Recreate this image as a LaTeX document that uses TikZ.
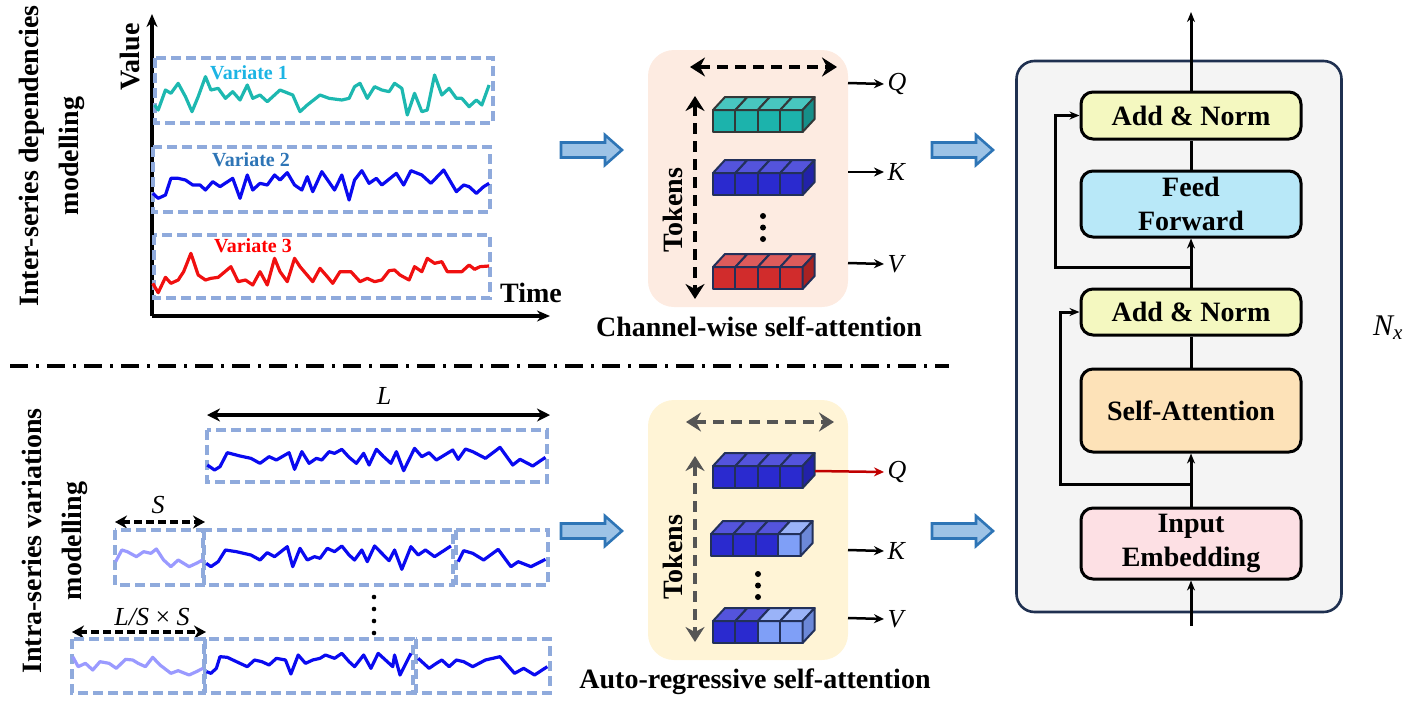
\documentclass[tikz,border=0pt]{standalone}
\usepackage{fontspec}
\setmainfont{Liberation Serif}
\usetikzlibrary{arrows.meta,calc}
\definecolor{boxblue}{HTML}{8FAADC}
\definecolor{ser1}{HTML}{1DB8B0}
\definecolor{ser2}{HTML}{0A0AF0}
\definecolor{ser3}{HTML}{F01010}
\definecolor{serL}{HTML}{9A9AFF}
\definecolor{lab1}{HTML}{1CB4E4}
\definecolor{lab2}{HTML}{2E75B6}
\definecolor{lab3}{HTML}{FF0000}
\definecolor{fatF}{HTML}{9DC3E6}
\definecolor{fatD}{HTML}{2E75B6}
\definecolor{peach}{HTML}{FDEBE1}
\definecolor{cream}{HTML}{FFF4D6}
\definecolor{tkTealF}{HTML}{1CB3AC}
\definecolor{tkTealT}{HTML}{48C6BF}
\definecolor{tkTealS}{HTML}{168F89}
\definecolor{tkBlueF}{HTML}{2A2ACF}
\definecolor{tkBlueT}{HTML}{5454DC}
\definecolor{tkBlueS}{HTML}{2222A8}
\definecolor{tkRedF}{HTML}{D12C2C}
\definecolor{tkRedT}{HTML}{DD5B5B}
\definecolor{tkRedS}{HTML}{A82222}
\definecolor{tkLightF}{HTML}{7F9FF7}
\definecolor{tkLightT}{HTML}{9AB3F8}
\definecolor{tkLightS}{HTML}{6C88D8}
\definecolor{edgeNavy}{HTML}{22305A}
\definecolor{edgeGray}{HTML}{333838}
\definecolor{panelgray}{HTML}{F4F4F4}
\definecolor{panelline}{HTML}{1F3050}
\definecolor{anFill}{HTML}{F4F8C0}
\definecolor{ffFill}{HTML}{B8E8F8}
\definecolor{saFill}{HTML}{FDE2B8}
\definecolor{ieFill}{HTML}{FDE0E4}
\definecolor{qred}{HTML}{C00000}
\definecolor{tokgray}{HTML}{555555}
% token bar: #1 x, #2 y (top of front), #3 list of colour prefixes, #4 side prefix, #5 edge colour
\newcommand\tokbar[5]{%
  \foreach \cc [count=\ii from 0] in {#3}{%
    \filldraw[fill=\cc F, draw=#5, line width=2, line join=round] (#1+22.4*\ii,#2) rectangle ++(22.4,22);
    \filldraw[fill=\cc T, draw=#5, line width=2, line join=round] (#1+22.4*\ii,#2) -- ++(12,-13) -- ++(22.4,0) -- ++(-12,13) -- cycle;
  }%
  \filldraw[fill=#4S, draw=#5, line width=2, line join=round] (#1+89.6,#2) -- ++(12,-13) -- ++(0,22) -- ++(-12,13) -- cycle;
}
\newcommand\fatarrow[2]{%
  \filldraw[fill=fatF, draw=fatD, line width=2.6, line join=miter] (#1,#2-7.5) -- ++(44,0) -- ++(0,-7.5) -- ++(17,15) -- ++(-17,15) -- ++(0,-7.5) -- ++(-44,0) -- cycle;
}
\begin{document}
\begin{tikzpicture}[x=1pt,y=-1pt,
  dbox/.style={draw=boxblue, line width=3.4, dash pattern=on 10 off 5},
  sideTitle/.style={font=\fontsize{28}{40}\selectfont\bfseries, rotate=90, align=center},
  big/.style={font=\fontsize{28}{33}\selectfont\bfseries},
  vlab/.style={font=\fontsize{20}{22}\selectfont\bfseries},
  mlab/.style={font=\fontsize{26}{28}\selectfont\itshape},
  qkv/.style={line width=2.5, -{Stealth[length=10,width=9]}},
  tokarr/.style={line width=3.8, dash pattern=on 11 off 7, {Stealth[length=15,width=19,inset=5]}-{Stealth[length=15,width=19,inset=5]}},
  blk/.style={draw=black, line width=3, rounded corners=12, minimum width=220, inner sep=0, font=\fontsize{28}{34}\selectfont\bfseries, align=center},
  arr/.style={line width=3, -{Stealth[length=10,width=8]}},
  ln/.style={line width=3},
  ser/.style={line width=3.2, line join=round}]
\useasboundingbox (0,0) rectangle (1411,726);

% ---------------- top left: inter-series -----------------
\node[sideTitle] (t1) at (52,156) {Inter-series dependencies\\modelling};
\node[big, rotate=90] (value) at (130,57) {Value};
\node[big] (time) at (531,293) {Time};
\coordinate (orig) at (152,316);
\coordinate (ytop) at (152,14);
\coordinate (xend) at (550,316);
\draw[line width=3.4, -{Stealth[length=13,width=11]}] (orig) -- (ytop);
\draw[line width=3.4, -{Stealth[length=13,width=11]}] (orig) -- (xend);
\draw[dbox] (155,58) rectangle (493,123);
\draw[dbox] (153,147) rectangle (490,212);
\draw[dbox] (154,235) rectangle (490,298);
\begin{scope}[xscale=1/2.75, yscale=1/3]
\draw[ser1, ser] plot coordinates {(425,315)(435,330)(455,270)(470,280)(490,250)(510,290)(528,335)(545,290)(565,230)(580,270)(600,265)(620,295)(640,275)(660,300)(680,255)(695,295)(715,285)(735,305)(770,270)(805,285)(825,335)(845,315)(880,285)(905,295)(940,300)(960,295)(975,260)(990,250)(1010,295)(1030,260)(1050,270)(1070,275)(1085,250)(1105,265)(1120,345)(1140,280)(1160,335)(1175,330)(1195,225)(1215,285)(1235,265)(1255,295)(1270,295)(1290,320)(1310,300)(1325,315)(1345,255)};
\draw[ser2, ser] plot coordinates {(420,580)(435,595)(455,585)(470,535)(490,535)(510,540)(530,555)(550,555)(565,570)(585,545)(605,560)(640,535)(660,595)(680,525)(695,570)(715,550)(735,555)(755,525)(770,540)(790,518)(810,555)(830,570)(845,530)(860,575)(885,515)(920,570)(940,525)(960,600)(975,540)(995,512)(1015,550)(1035,535)(1050,555)(1090,520)(1110,555)(1130,512)(1160,525)(1185,550)(1220,510)(1255,575)(1275,555)(1290,560)(1310,580)(1330,560)(1345,550)};
\draw[ser3, ser] plot coordinates {(420,850)(435,878)(455,832)(470,850)(490,840)(505,815)(525,760)(545,825)(565,840)(580,835)(600,832)(635,800)(655,845)(675,840)(695,855)(715,815)(735,855)(755,775)(770,815)(790,845)(810,775)(825,800)(860,845)(880,805)(900,830)(915,850)(935,815)(965,815)(990,845)(1010,835)(1030,845)(1050,840)(1070,812)(1085,810)(1100,825)(1125,840)(1140,800)(1160,815)(1175,775)(1195,790)(1215,785)(1230,815)(1270,815)(1290,795)(1305,808)(1320,800)(1345,798)};
\end{scope}
\node[vlab, lab1] (v1) at (249,73) {Variate 1};
\node[vlab, lab2] (v2) at (251,160) {Variate 2};
\node[vlab, lab3] (v3) at (253,246) {Variate 3};

% fat arrows
\fatarrow{561}{150}
\fatarrow{932}{150}
\fatarrow{561}{531}
\fatarrow{932}{531}

% ---------------- top tokens -----------------
\node[fill=peach, rounded corners=26, minimum width=200, minimum height=257, inner sep=0] (p1) at (748,178.5) {};
\coordinate (h1l) at (690,67); \coordinate (h1r) at (837,67);
\draw[tokarr] (h1l) -- (h1r);
\coordinate (v1t) at (695,96); \coordinate (v1b) at (695,299);
\draw[tokarr] (v1t) -- (v1b);
\node[big, rotate=90] (tok1) at (673,210) {Tokens};
\tokbar{713}{110}{tkTeal,tkTeal,tkTeal,tkTeal}{tkTeal}{edgeGray}
\tokbar{713}{173}{tkBlue,tkBlue,tkBlue,tkBlue}{tkBlue}{edgeNavy}
\tokbar{713}{267}{tkRed,tkRed,tkRed,tkRed}{tkRed}{edgeNavy}
\foreach \yy in {216,227.5,239} \fill (763,\yy) circle (3);
\node[mlab, anchor=west] (q1) at (884,84) {Q};
\node[mlab, anchor=west] (k1) at (884,172) {K};
\node[mlab, anchor=west] (vv1) at (884,264) {V};
\coordinate (q1s) at (848,83); \coordinate (k1s) at (848,172); \coordinate (vv1s) at (848,263);
\draw[qkv] (q1s) -- (q1.west);
\draw[qkv] (k1s) -- (k1.west);
\draw[qkv] (vv1s) -- (vv1.west);
\node[big] (cw) at (759,327) {Channel-wise self-attention};

% separator
\coordinate (sepL) at (10,366); \coordinate (sepR) at (949,366);
\draw[line width=3.6, dash pattern=on 18 off 8 on 3 off 8] (sepL) -- (sepR);

% ---------------- bottom left: intra-series -----------------
\node[sideTitle] (t2) at (55,541) {Intra-series variations\\modelling};
\node[mlab] (Llab) at (384,396) {L};
\coordinate (La) at (207,415); \coordinate (Lb) at (550,415);
\draw[line width=3.4, {Stealth[length=13,width=13]}-{Stealth[length=13,width=13]}] (La) -- (Lb);
\draw[dbox] (207,430) rectangle (547,482);
\node[mlab] (Slab) at (158,505) {S};
\coordinate (Sa) at (115,522); \coordinate (Sb) at (205,522);
\draw[line width=3.8, dash pattern=on 8 off 4, {Stealth[length=12,width=13]}-{Stealth[length=12,width=13]}] (Sa) -- (Sb);
\draw[dbox] (115,530) rectangle (203,585);
\draw[dbox] (204,530) rectangle (453,585);
\draw[dbox] (456,530) rectangle (548,585);
\foreach \yy in {597,609,621,633} \fill (374,\yy) circle (2.3);
\node[font=\fontsize{26}{28}\selectfont] (LSlab) at (152,617) {\itshape L/S\/ \upshape× \itshape S};
\coordinate (LSa) at (72,632); \coordinate (LSb) at (206,632);
\draw[line width=3.8, dash pattern=on 8 off 4, {Stealth[length=12,width=13]}-{Stealth[length=12,width=13]}] (LSa) -- (LSb);
\draw[dbox] (72,639) rectangle (204,693);
\draw[dbox] (205,639) rectangle (413,693);
\draw[dbox] (416,639) rectangle (550,693);
\begin{scope}[shift={(0,370)}, xscale=1/2.75, yscale=1/3]
\draw[ser2, ser] plot coordinates {(570,285)(590,300)(605,290)(625,248)(660,258)(690,265)(715,280)(740,260)(760,270)(795,248)(810,298)(830,245)(850,280)(870,265)(885,270)(905,245)(920,250)(940,238)(960,262)(980,280)(1000,250)(1015,285)(1035,238)(1055,260)(1075,280)(1090,245)(1110,302)(1140,235)(1160,260)(1180,248)(1200,270)(1245,240)(1260,268)(1280,237)(1300,245)(1335,265)(1375,232)(1410,285)(1430,268)(1465,288)(1500,262)};
\draw[serL, ser] plot coordinates {(318,575)(335,540)(350,545)(375,560)(395,545)(415,550)(430,537)(450,570)(470,590)(490,570)(520,590)(540,580)(557,570)};
\draw[ser2, ser] plot coordinates {(567,580)(580,590)(600,575)(620,540)(650,545)(690,555)(715,570)(735,548)(755,560)(790,530)(805,590)(825,535)(845,570)(865,560)(880,565)(900,535)(920,545)(940,528)(960,555)(975,570)(995,540)(1010,575)(1030,528)(1050,550)(1070,572)(1085,540)(1105,598)(1130,530)(1150,555)(1170,540)(1195,560)(1240,528)};
\draw[ser2, ser] plot coordinates {(1260,575)(1275,542)(1300,550)(1330,570)(1370,538)(1405,590)(1425,575)(1460,590)(1500,568)};
\draw[serL, ser] plot coordinates {(200,860)(215,890)(235,880)(255,900)(275,875)(300,880)(320,895)(345,868)(365,870)(380,880)(400,890)(420,862)(440,885)(470,910)(490,902)(520,915)(540,905)(558,895)};
\draw[ser2, ser] plot coordinates {(568,905)(580,910)(595,895)(605,860)(625,862)(660,880)(680,890)(700,870)(720,875)(740,885)(760,865)(785,870)(800,912)(820,855)(840,880)(860,870)(880,865)(895,855)(920,865)(940,850)(960,875)(975,890)(1000,855)(1020,895)(1040,850)(1060,870)(1080,890)(1085,855)(1100,915)(1130,850)};
\draw[ser2, ser] plot coordinates {(1150,865)(1165,880)(1180,895)(1200,880)(1215,870)(1235,890)(1255,870)(1275,875)(1300,890)(1335,870)(1375,860)(1415,910)(1440,895)(1470,915)(1505,890)};
\end{scope}

% ---------------- bottom tokens -----------------
\node[fill=cream, rounded corners=26, minimum width=200, minimum height=260, inner sep=0] (p2) at (748,530) {};
\coordinate (h2l) at (686,422); \coordinate (h2r) at (834,422);
\draw[tokarr, tokgray] (h2l) -- (h2r);
\coordinate (v2t) at (695,456); \coordinate (v2b) at (695,642);
\draw[tokarr, tokgray] (v2t) -- (v2b);
\node[big, rotate=90] (tok2) at (673,557) {Tokens};
\tokbar{713}{466}{tkBlue,tkBlue,tkBlue,tkBlue}{tkBlue}{edgeNavy}
\tokbar{711}{534}{tkBlue,tkBlue,tkBlue,tkLight}{tkLight}{edgeNavy}
\tokbar{713}{621}{tkBlue,tkBlue,tkLight,tkLight}{tkLight}{edgeNavy}
\foreach \yy in {574,585.5,597} \fill (758,\yy) circle (3);
\node[mlab, anchor=west] (q2) at (884,472) {Q};
\node[mlab, anchor=west] (k2) at (884,551) {K};
\node[mlab, anchor=west] (vv2) at (884,619) {V};
\coordinate (q2s) at (815,471); \coordinate (k2s) at (848,550); \coordinate (vv2s) at (848,618);
\draw[qkv, qred] (q2s) -- (q2.west);
\draw[qkv] (k2s) -- (k2.west);
\draw[qkv] (vv2s) -- (vv2.west);
\node[big] (ar) at (755,682) {Auto-regressive self-attention};

% ---------------- right: transformer block -----------------
\node[draw=panelline, fill=panelgray, line width=2.6, rounded corners=18, minimum width=325, minimum height=551, inner sep=0] (panel) at (1179,336.5) {};
\node[blk, fill=anFill, minimum height=47] (an1) at (1191,115.5) {Add \& Norm};
\node[blk, fill=ffFill, minimum height=66] (ff) at (1191,204) {Feed\\Forward};
\node[blk, fill=anFill, minimum height=46] (an2) at (1191,312) {Add \& Norm};
\node[blk, fill=saFill, minimum height=83] (sa) at (1191,410.5) {Self-Attention};
\node[blk, fill=ieFill, minimum height=71] (ie) at (1191,543.5) {Input\\Embedding};
\coordinate (inB) at (1191,626);
\coordinate (outT) at (1191,12);
\coordinate (r1) at (1191,484); \coordinate (r1l) at (1060,484);
\coordinate (r2) at (1191,267); \coordinate (r2l) at (1055,267);
\draw[arr] (inB) -- (ie.south);
\draw[arr] (ie.north) -- (sa.south);
\draw[arr] (r1) -- (r1l) |- (an2.west);
\draw[ln] (sa.north) -- (an2.south);
\draw[arr] (an2.north) -- (ff.south);
\draw[arr] (r2) -- (r2l) |- (an1.west);
\draw[ln] (ff.north) -- (an1.south);
\draw[arr] (an1.north) -- (outT);
\node[font=\fontsize{30}{30}\selectfont] (nx) at (1388,328) {\itshape N\textsubscript{x}};
\end{tikzpicture}
\end{document}
